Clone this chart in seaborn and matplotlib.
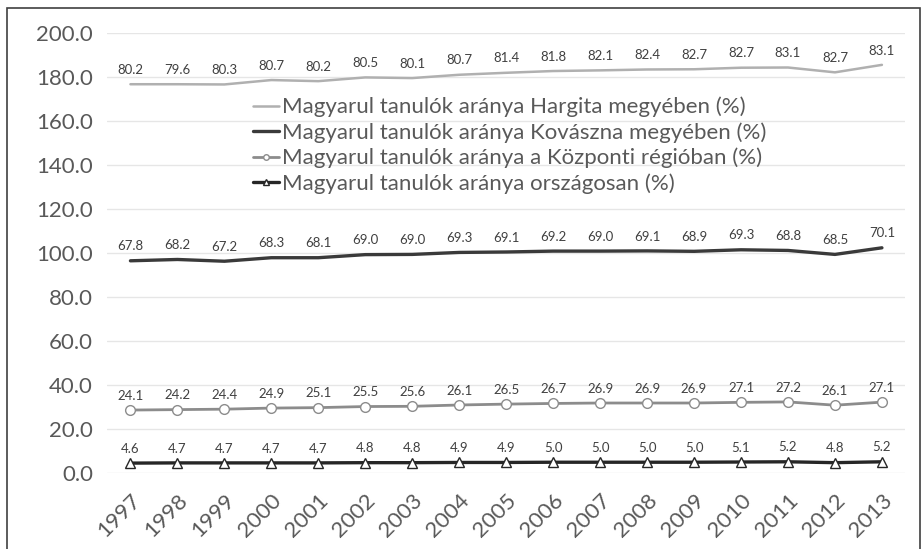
import numpy as np
import pandas as pd
import matplotlib
matplotlib.use("Agg")
import matplotlib.pyplot as plt
import seaborn as sns

years = list(range(1997, 2014))
hargita = [80.2, 79.6, 80.3, 80.7, 80.2, 80.5, 80.1, 80.7, 81.4, 81.8, 82.1, 82.4, 82.7, 82.7, 83.1, 82.7, 83.1]
kovaszna = [67.8, 68.2, 67.2, 68.3, 68.1, 69.0, 69.0, 69.3, 69.1, 69.2, 69.0, 69.1, 68.9, 69.3, 68.8, 68.5, 70.1]
kozponti = [24.1, 24.2, 24.4, 24.9, 25.1, 25.5, 25.6, 26.1, 26.5, 26.7, 26.9, 26.9, 26.9, 27.1, 27.2, 26.1, 27.1]
orszagos = [4.6, 4.7, 4.7, 4.7, 4.7, 4.8, 4.8, 4.9, 4.9, 5.0, 5.0, 5.0, 5.0, 5.1, 5.2, 4.8, 5.2]

names = ["Magyarul tanulók aránya Hargita megyében (%)",
         "Magyarul tanulók aránya Kovászna megyében (%)",
         "Magyarul tanulók aránya a Központi régióban (%)",
         "Magyarul tanulók aránya országosan (%)"]

# stacked line chart: bottom series first
bottom_up = [orszagos, kozponti, kovaszna, hargita]
stacked = np.cumsum(np.array(bottom_up), axis=0)

sns.set_style("white")
plt.rcParams['font.family'] = ['Lato', 'DejaVu Sans']

fig = plt.figure(figsize=(9.22, 5.49), dpi=100)
ax = fig.add_axes([0.116, 0.138, 0.866, 0.802])

styles = [  # orszagos, kozponti, kovaszna, hargita
    dict(color="#262626", lw=2.4, marker="^", ms=7, mfc="white", mec="#262626", mew=1.0),
    dict(color="#8c8c8c", lw=2.0, marker="o", ms=7, mfc="white", mec="#8c8c8c", mew=1.0),
    dict(color="#3a3a3a", lw=2.4, marker=None),
    dict(color="#b0b0b0", lw=1.8, marker=None),
]
label_names = [names[3], names[2], names[1], names[0]]

df = pd.DataFrame({"year": years})
for i in range(4):
    col = "s%d" % i
    df[col] = stacked[i]
    st = styles[i]
    sns.lineplot(data=df, x="year", y=col, ax=ax, color=st["color"], linewidth=st["lw"],
                 marker=st["marker"], markersize=st.get("ms", 0),
                 markerfacecolor=st.get("mfc"), markeredgecolor=st.get("mec"),
                 markeredgewidth=st.get("mew", 0), label=label_names[i], zorder=3 + i)
    for x, y, v in zip(years, stacked[i], bottom_up[i]):
        ax.annotate("%.1f" % v, (x, y), xytext=(0, 6), textcoords="offset points",
                    ha="center", va="bottom", fontsize=9.5, color="#404040")

ax.set_xlim(1996.5, 2013.5)
ax.set_ylim(0, 200)
ax.set_yticks(np.arange(0, 201, 20))
ax.set_yticklabels(["%.1f" % t for t in np.arange(0, 201, 20)], fontsize=16, color="#595959")
ax.set_xticks(years)
ax.set_xticklabels([str(y) for y in years], rotation=45, ha="right", rotation_mode="anchor",
                   fontsize=16, color="#595959")
ax.tick_params(axis="y", length=0, pad=10)
ax.tick_params(axis="x", length=0, pad=12)
ax.yaxis.grid(True, color="#e6e6e6", lw=1)
ax.set_axisbelow(True)
for s in ax.spines.values():
    s.set_visible(False)
ax.set_xlabel("")
ax.set_ylabel("")

h, l = ax.get_legend_handles_labels()
order = [3, 2, 1, 0]
leg = ax.legend([h[k] for k in order], [l[k] for k in order], loc="upper left",
                bbox_to_anchor=(0.172, 0.875), frameon=False, fontsize=16,
                handlelength=1.15, handletextpad=0.15, labelspacing=0.22,
                borderaxespad=0)
for t in leg.get_texts():
    t.set_color("#595959")
for lh in leg.get_lines():
    lh.set_markersize(4)

# outer frame
fig.patches.append(plt.Rectangle((0.008, -0.01), 0.99, 0.995, transform=fig.transFigure,
                                 fill=False, edgecolor="#404040", lw=1.2))

fig.savefig("out.png", dpi=100)
